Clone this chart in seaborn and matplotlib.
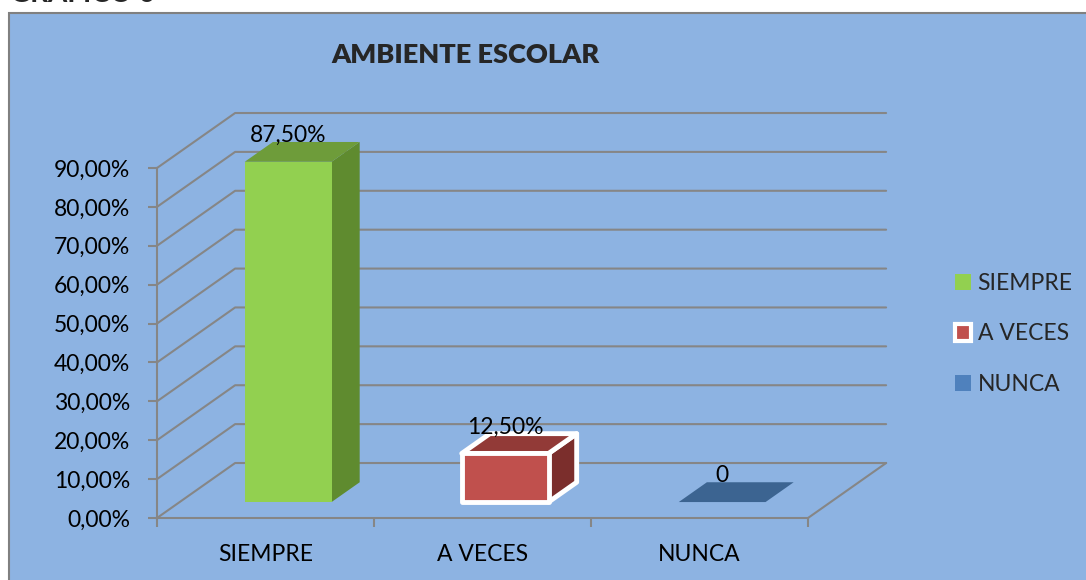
import matplotlib
matplotlib.use("Agg")
import matplotlib.pyplot as plt
import seaborn as sns
import pandas as pd
from matplotlib.patches import Polygon, Rectangle, Patch
from matplotlib.ticker import FuncFormatter

# Datos del grafico
categorias = ["SIEMPRE", "A VECES", "NUNCA"]
porcentajes = [0.875, 0.125, 0.0]
etiquetas = ["87,50%", "12,50%", "0"]
ticks_y = [0.0, 0.1, 0.2, 0.3, 0.4, 0.5, 0.6, 0.7, 0.8, 0.9]

# Colores (frente, lado, techo)
colores_frente = ["#92D050", "#C0504D", "#4F81BD"]
colores_lado = ["#5F8B2F", "#7B2E2C", "#3C6491"]
colores_techo = ["#6E9C3A", "#923A37", "#3C6491"]
fondo = "#8DB3E2"
gris = "#868686"

df = pd.DataFrame({"Respuesta": categorias, "Porcentaje": porcentajes})

sns.set_theme(style="white")
plt.rcParams["font.family"] = ["Lato", "DejaVu Sans"]

fig = plt.figure(figsize=(10.86, 5.8), dpi=100)
fig.patch.set_facecolor("white")

# Marco del grafico
marco = Rectangle((9 / 1086, -0.01), 1.0, 1 - 13 / 580 + 0.01,
                  transform=fig.transFigure, facecolor=fondo,
                  edgecolor="#808080", linewidth=1.5, zorder=-10)
fig.patches.append(marco)

# Ejes: la arista frontal del piso y el eje vertical frontal
ax = fig.add_axes([157 / 1086, 62 / 580, 651 / 1086, 350 / 580])
ax.set_facecolor("none")
ax.set_zorder(5)

sns.barplot(data=df, x="Respuesta", y="Porcentaje", hue="Respuesta",
            palette=colores_frente, width=0.4, saturation=1, legend=False, ax=ax)
ax.set_xlim(-0.5, 2.5)
ax.set_ylim(0, 0.9)

# Perspectiva (desplazamiento de la pared del fondo)
ddx, ddy = 0.36, 0.1414
f, d = 0.29, 0.36

# Pared del fondo y lineas de cuadricula
for v in ticks_y:
    ax.plot([-0.5, -0.5 + ddx, 2.5 + ddx], [v, v + ddy, v + ddy],
            color=gris, lw=1.5, clip_on=False, zorder=1)
ax.plot([2.5, 2.5 + ddx], [0, ddy], color=gris, lw=1.5, clip_on=False, zorder=1)

# Barras en 3D
for patch in ax.patches[:]:
    w = patch.get_width()
    h = patch.get_height()
    i = int(round(patch.get_x() + w / 2))
    x0 = patch.get_x() + f * ddx
    y0 = f * ddy
    patch.set_x(x0)
    patch.set_y(y0)
    patch.set_clip_on(False)
    patch.set_zorder(3)
    borde = "white" if categorias[i] == "A VECES" else "none"
    lw = 3.5 if borde == "white" else 0
    patch.set_edgecolor(borde)
    patch.set_linewidth(lw)
    patch.set_joinstyle("round")
    lado = Polygon([(x0 + w, y0), (x0 + w + d * ddx, y0 + d * ddy),
                    (x0 + w + d * ddx, y0 + h + d * ddy), (x0 + w, y0 + h)],
                   closed=True, facecolor=colores_lado[i], edgecolor=borde,
                   linewidth=lw, joinstyle="round", clip_on=False, zorder=2)
    techo = Polygon([(x0, y0 + h), (x0 + w, y0 + h),
                     (x0 + w + d * ddx, y0 + h + d * ddy), (x0 + d * ddx, y0 + h + d * ddy)],
                    closed=True, facecolor=colores_techo[i], edgecolor=borde,
                    linewidth=lw, joinstyle="round", clip_on=False, zorder=2)
    ax.add_patch(lado)
    ax.add_patch(techo)
    ax.text(x0 + w / 2, y0 + h + d * ddy, etiquetas[i], ha="center", va="baseline",
            fontsize=16.5, color="black", clip_on=False, zorder=5)

# Ejes y marcas
for s in ["top", "right"]:
    ax.spines[s].set_visible(False)
for s in ["left", "bottom"]:
    ax.spines[s].set_color(gris)
    ax.spines[s].set_linewidth(1.5)

ax.set_yticks(ticks_y)
ax.yaxis.set_major_formatter(FuncFormatter(lambda v, p: f"{v * 100:.2f}%".replace(".", ",")))
ax.tick_params(axis="y", left=True, length=6.5, width=1.5, color=gris, pad=13,
               labelsize=16.5, labelcolor="black")
ax.set_xticks([0, 1, 2], categorias)
ax.set_xticks([-0.5, 0.5, 1.5, 2.5], minor=True)
ax.tick_params(axis="x", which="major", bottom=True, length=0, pad=19,
               labelsize=16.5, labelcolor="black")
ax.tick_params(axis="x", which="minor", bottom=True, length=6.5, width=1.5, color=gris)
ax.set_xlabel("")
ax.set_ylabel("")

# Leyenda
manejadores = [Patch(facecolor=colores_frente[0], edgecolor="none"),
               Patch(facecolor=colores_frente[1], edgecolor="white", linewidth=3),
               Patch(facecolor=colores_frente[2], edgecolor="none")]
fig.legend(manejadores, categorias, loc="center left",
           bbox_to_anchor=(934 / 1086, 1 - 334 / 580), frameon=False,
           fontsize=16.5, handlelength=0.7, handleheight=0.7, handletextpad=0.3,
           labelspacing=1.3)

# Titulos
fig.text(465 / 1086, 1 - 55 / 580, "AMBIENTE ESCOLAR", ha="center", va="center",
         fontsize=19.5, fontweight="heavy")
fig.text(10 / 1086, 1 - 2 / 580, "GRÁFICO 6", ha="left", va="baseline",
         fontsize=20, fontweight="bold")

fig.savefig("out.png", dpi=100)
